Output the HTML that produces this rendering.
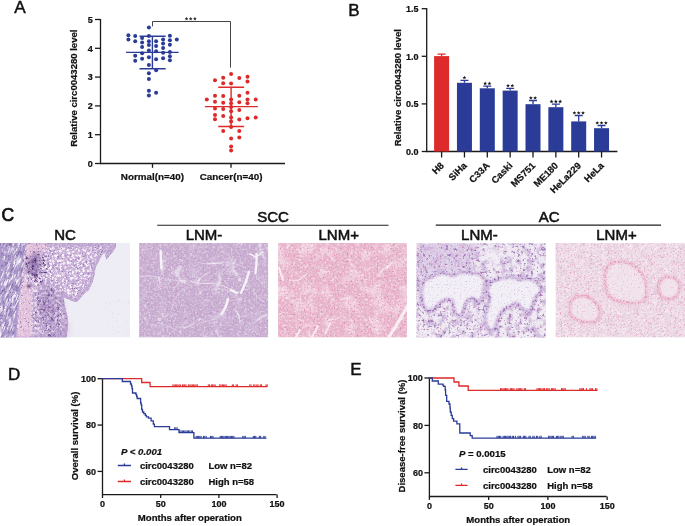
<!DOCTYPE html>
<html><head><meta charset="utf-8"><style>
html,body{margin:0;padding:0;background:#fff;}
svg{display:block;will-change:transform;}
text{font-family:"Liberation Sans",sans-serif;fill:#111;}
text[font-weight="bold"]{stroke:#111;stroke-width:0.22px;}
</style></head><body>
<svg width="685" height="526" viewBox="0 0 685 526">
<rect width="685" height="526" fill="#fff"/>
<text x="14.2" y="12.8" font-size="17.2" font-weight="normal" text-anchor="start" stroke="#111" stroke-width="0.45"  >A</text>
<path d="M100.5,18.9 V163.5 H285" fill="none" stroke="#1a1a1a" stroke-width="1.3"/>
<path d="M95,163.5 H100.5" stroke="#1a1a1a" stroke-width="1.3"/>
<text x="92.8" y="166.8" font-size="9" font-weight="bold" text-anchor="end"  >0</text>
<path d="M95,134.7 H100.5" stroke="#1a1a1a" stroke-width="1.3"/>
<text x="92.8" y="138.0" font-size="9" font-weight="bold" text-anchor="end"  >1</text>
<path d="M95,105.9 H100.5" stroke="#1a1a1a" stroke-width="1.3"/>
<text x="92.8" y="109.2" font-size="9" font-weight="bold" text-anchor="end"  >2</text>
<path d="M95,77.1 H100.5" stroke="#1a1a1a" stroke-width="1.3"/>
<text x="92.8" y="80.39999999999999" font-size="9" font-weight="bold" text-anchor="end"  >3</text>
<path d="M95,48.3 H100.5" stroke="#1a1a1a" stroke-width="1.3"/>
<text x="92.8" y="51.599999999999994" font-size="9" font-weight="bold" text-anchor="end"  >4</text>
<path d="M95,19.5 H100.5" stroke="#1a1a1a" stroke-width="1.3"/>
<text x="92.8" y="22.8" font-size="9" font-weight="bold" text-anchor="end"  >5</text>
<path d="M152.5,163.5 V167.8" stroke="#1a1a1a" stroke-width="1.3"/>
<path d="M231.0,163.5 V167.8" stroke="#1a1a1a" stroke-width="1.3"/>
<text x="152.4" y="180.3" font-size="9.85" font-weight="bold" text-anchor="middle"  >Normal(n=40)</text>
<text x="231.1" y="180.3" font-size="9.85" font-weight="bold" text-anchor="middle"  >Cancer(n=40)</text>
<text transform="translate(77.2,88.2) rotate(-90)" font-size="9.55" font-weight="bold" text-anchor="middle">Relative circ0043280 level</text>
<path d="M152.5,26.3 V21.5 H230.5 V67.6" fill="none" stroke="#444" stroke-width="1"/>
<polygon points="186.50,16.80 187.03,18.07 188.40,18.18 187.36,19.08 187.68,20.42 186.50,19.70 185.32,20.42 185.64,19.08 184.60,18.18 185.97,18.07" fill="#333"/><polygon points="190.70,16.80 191.23,18.07 192.60,18.18 191.56,19.08 191.88,20.42 190.70,19.70 189.52,20.42 189.84,19.08 188.80,18.18 190.17,18.07" fill="#333"/><polygon points="194.90,16.80 195.43,18.07 196.80,18.18 195.76,19.08 196.08,20.42 194.90,19.70 193.72,20.42 194.04,19.08 193.00,18.18 194.37,18.07" fill="#333"/>
<g fill="#2a3c98"><circle cx="148.9" cy="27.6" r="2.0"/><circle cx="128.4" cy="35.2" r="2.0"/><circle cx="128.4" cy="39.5" r="2.0"/><circle cx="135.2" cy="36.0" r="2.0"/><circle cx="135.2" cy="41.3" r="2.0"/><circle cx="142.1" cy="37.9" r="2.0"/><circle cx="142.1" cy="42.5" r="2.0"/><circle cx="142.1" cy="47.1" r="2.0"/><circle cx="142.1" cy="53.2" r="2.0"/><circle cx="142.1" cy="58.8" r="2.0"/><circle cx="148.9" cy="36.0" r="2.0"/><circle cx="148.9" cy="41.3" r="2.0"/><circle cx="148.9" cy="45.1" r="2.0"/><circle cx="148.9" cy="50.4" r="2.0"/><circle cx="148.9" cy="57.3" r="2.0"/><circle cx="148.9" cy="64.9" r="2.0"/><circle cx="148.9" cy="73.2" r="2.0"/><circle cx="148.9" cy="79.0" r="2.0"/><circle cx="148.9" cy="90.7" r="2.0"/><circle cx="148.9" cy="95.6" r="2.0"/><circle cx="156.1" cy="41.3" r="2.0"/><circle cx="156.1" cy="45.9" r="2.0"/><circle cx="156.1" cy="51.2" r="2.0"/><circle cx="156.1" cy="59.2" r="2.0"/><circle cx="156.1" cy="70.2" r="2.0"/><circle cx="156.1" cy="92.7" r="2.0"/><circle cx="163.1" cy="39.5" r="2.0"/><circle cx="163.1" cy="43.6" r="2.0"/><circle cx="163.1" cy="48.1" r="2.0"/><circle cx="163.1" cy="52.7" r="2.0"/><circle cx="163.1" cy="58.3" r="2.0"/><circle cx="169.9" cy="35.7" r="2.0"/><circle cx="169.9" cy="40.2" r="2.0"/><circle cx="169.9" cy="44.8" r="2.0"/><circle cx="169.9" cy="51.9" r="2.0"/><circle cx="169.9" cy="56.2" r="2.0"/><circle cx="169.9" cy="60.3" r="2.0"/><circle cx="176.8" cy="39.5" r="2.0"/><circle cx="135.2" cy="55.7" r="2.0"/><circle cx="135.2" cy="60.8" r="2.0"/></g>
<g fill="#dd2a2a"><circle cx="231.1" cy="73.9" r="2.0"/><circle cx="215.0" cy="80.3" r="2.0"/><circle cx="223.2" cy="77.7" r="2.0"/><circle cx="239.3" cy="78.1" r="2.0"/><circle cx="247.5" cy="76.7" r="2.0"/><circle cx="223.2" cy="83.2" r="2.0"/><circle cx="231.1" cy="83.4" r="2.0"/><circle cx="247.5" cy="81.5" r="2.0"/><circle cx="247.5" cy="92.7" r="2.0"/><circle cx="206.8" cy="99.5" r="2.0"/><circle cx="215.0" cy="95.7" r="2.0"/><circle cx="223.2" cy="96.1" r="2.0"/><circle cx="239.3" cy="95.7" r="2.0"/><circle cx="255.7" cy="99.4" r="2.0"/><circle cx="215.0" cy="101.8" r="2.0"/><circle cx="223.2" cy="102.8" r="2.0"/><circle cx="231.1" cy="99.5" r="2.0"/><circle cx="231.1" cy="103.3" r="2.0"/><circle cx="239.3" cy="102.2" r="2.0"/><circle cx="247.5" cy="99.5" r="2.0"/><circle cx="247.5" cy="103.3" r="2.0"/><circle cx="215.0" cy="108.5" r="2.0"/><circle cx="223.2" cy="109.0" r="2.0"/><circle cx="231.1" cy="107.1" r="2.0"/><circle cx="239.3" cy="110.0" r="2.0"/><circle cx="231.1" cy="111.3" r="2.0"/><circle cx="215.0" cy="115.1" r="2.0"/><circle cx="215.0" cy="119.3" r="2.0"/><circle cx="223.2" cy="116.1" r="2.0"/><circle cx="231.1" cy="117.4" r="2.0"/><circle cx="231.1" cy="121.4" r="2.0"/><circle cx="239.3" cy="119.5" r="2.0"/><circle cx="247.5" cy="118.2" r="2.0"/><circle cx="255.7" cy="117.4" r="2.0"/><circle cx="231.1" cy="126.9" r="2.0"/><circle cx="223.2" cy="130.9" r="2.0"/><circle cx="239.3" cy="130.9" r="2.0"/><circle cx="231.1" cy="138.5" r="2.0"/><circle cx="239.3" cy="137.6" r="2.0"/><circle cx="231.1" cy="146.5" r="2.0"/><circle cx="231.1" cy="150.5" r="2.0"/></g>
<path d="M126,52.4 H178.6 M139.5,36.3 H165.7 M139.5,68.7 H165.7 M152.4,36.3 V68.7" stroke="#2a3c98" stroke-width="1.4" fill="none"/>
<path d="M204.9,106.6 H257.8 M218.2,87.2 H244.1 M218.2,126.5 H244.1 M231.1,87.2 V126.5" stroke="#dd2a2a" stroke-width="1.4" fill="none"/>
<text x="348.2" y="15.8" font-size="17.0" font-weight="normal" text-anchor="start" stroke="#111" stroke-width="0.45"  >B</text>
<path d="M426.7,8.099999999999989 V151.5 H617.4" fill="none" stroke="#1a1a1a" stroke-width="1.3"/>
<path d="M421.7,151.5 H426.7" stroke="#1a1a1a" stroke-width="1.3"/>
<text x="418.6" y="154.8" font-size="9" font-weight="bold" text-anchor="end"  >0.0</text>
<path d="M421.7,103.9 H426.7" stroke="#1a1a1a" stroke-width="1.3"/>
<text x="418.6" y="107.2" font-size="9" font-weight="bold" text-anchor="end"  >0.5</text>
<path d="M421.7,56.3 H426.7" stroke="#1a1a1a" stroke-width="1.3"/>
<text x="418.6" y="59.599999999999994" font-size="9" font-weight="bold" text-anchor="end"  >1.0</text>
<path d="M421.7,8.699999999999989 H426.7" stroke="#1a1a1a" stroke-width="1.3"/>
<text x="418.6" y="11.99999999999999" font-size="9" font-weight="bold" text-anchor="end"  >1.5</text>
<text transform="translate(401.2,87.7) rotate(-90)" font-size="9.55" font-weight="bold" text-anchor="middle">Relative circ0043280 level</text>
<rect x="434.1" y="56.1" width="15" height="95.4" fill="#dd2a2a"/>
<path d="M441.6,56.1 V54.2 M437.6,54.2 H445.6" stroke="#dd2a2a" stroke-width="1.3" fill="none"/>
<path d="M441.6,151.5 V157.5" stroke="#1a1a1a" stroke-width="1.3"/>
<text transform="translate(444.6,166.2) rotate(-45)" font-size="9.5" font-weight="bold" text-anchor="end">H8</text>
<rect x="456.95000000000005" y="82.8" width="15" height="68.7" fill="#2a3c98"/>
<path d="M464.45000000000005,82.8 V80.3 M460.45000000000005,80.3 H468.45000000000005" stroke="#2a3c98" stroke-width="1.3" fill="none"/>
<path d="M464.45000000000005,151.5 V157.5" stroke="#1a1a1a" stroke-width="1.3"/>
<polygon points="464.45,75.70 464.98,76.97 466.35,77.08 465.31,77.98 465.63,79.32 464.45,78.60 463.27,79.32 463.59,77.98 462.55,77.08 463.92,76.97" fill="#1a1a1a"/>
<text transform="translate(467.45000000000005,166.2) rotate(-45)" font-size="9.5" font-weight="bold" text-anchor="end">SiHa</text>
<rect x="479.8" y="88.3" width="15" height="63.2" fill="#2a3c98"/>
<path d="M487.3,88.3 V86.1 M483.3,86.1 H491.3" stroke="#2a3c98" stroke-width="1.3" fill="none"/>
<path d="M487.3,151.5 V157.5" stroke="#1a1a1a" stroke-width="1.3"/>
<polygon points="485.15,81.50 485.68,82.77 487.05,82.88 486.01,83.78 486.33,85.12 485.15,84.40 483.97,85.12 484.29,83.78 483.25,82.88 484.62,82.77" fill="#1a1a1a"/><polygon points="489.45,81.50 489.98,82.77 491.35,82.88 490.31,83.78 490.63,85.12 489.45,84.40 488.27,85.12 488.59,83.78 487.55,82.88 488.92,82.77" fill="#1a1a1a"/>
<text transform="translate(490.3,166.2) rotate(-45)" font-size="9.5" font-weight="bold" text-anchor="end">C33A</text>
<rect x="502.65000000000003" y="90.6" width="15" height="60.900000000000006" fill="#2a3c98"/>
<path d="M510.15000000000003,90.6 V88.3 M506.15000000000003,88.3 H514.1500000000001" stroke="#2a3c98" stroke-width="1.3" fill="none"/>
<path d="M510.15000000000003,151.5 V157.5" stroke="#1a1a1a" stroke-width="1.3"/>
<polygon points="508.00,83.70 508.53,84.97 509.90,85.08 508.86,85.98 509.18,87.32 508.00,86.60 506.82,87.32 507.14,85.98 506.10,85.08 507.47,84.97" fill="#1a1a1a"/><polygon points="512.30,83.70 512.83,84.97 514.20,85.08 513.16,85.98 513.48,87.32 512.30,86.60 511.12,87.32 511.44,85.98 510.40,85.08 511.77,84.97" fill="#1a1a1a"/>
<text transform="translate(513.1500000000001,166.2) rotate(-45)" font-size="9.5" font-weight="bold" text-anchor="end">Caski</text>
<rect x="525.5" y="104.2" width="15" height="47.3" fill="#2a3c98"/>
<path d="M533.0,104.2 V100.5 M529.0,100.5 H537.0" stroke="#2a3c98" stroke-width="1.3" fill="none"/>
<path d="M533.0,151.5 V157.5" stroke="#1a1a1a" stroke-width="1.3"/>
<polygon points="530.85,95.90 531.38,97.17 532.75,97.28 531.71,98.18 532.03,99.52 530.85,98.80 529.67,99.52 529.99,98.18 528.95,97.28 530.32,97.17" fill="#1a1a1a"/><polygon points="535.15,95.90 535.68,97.17 537.05,97.28 536.01,98.18 536.33,99.52 535.15,98.80 533.97,99.52 534.29,98.18 533.25,97.28 534.62,97.17" fill="#1a1a1a"/>
<text transform="translate(536.0,166.2) rotate(-45)" font-size="9.5" font-weight="bold" text-anchor="end">MS751</text>
<rect x="548.35" y="107.2" width="15" height="44.3" fill="#2a3c98"/>
<path d="M555.85,107.2 V104.2 M551.85,104.2 H559.85" stroke="#2a3c98" stroke-width="1.3" fill="none"/>
<path d="M555.85,151.5 V157.5" stroke="#1a1a1a" stroke-width="1.3"/>
<polygon points="551.55,99.60 552.08,100.87 553.45,100.98 552.41,101.88 552.73,103.22 551.55,102.50 550.37,103.22 550.69,101.88 549.65,100.98 551.02,100.87" fill="#1a1a1a"/><polygon points="555.85,99.60 556.38,100.87 557.75,100.98 556.71,101.88 557.03,103.22 555.85,102.50 554.67,103.22 554.99,101.88 553.95,100.98 555.32,100.87" fill="#1a1a1a"/><polygon points="560.15,99.60 560.68,100.87 562.05,100.98 561.01,101.88 561.33,103.22 560.15,102.50 558.97,103.22 559.29,101.88 558.25,100.98 559.62,100.87" fill="#1a1a1a"/>
<text transform="translate(558.85,166.2) rotate(-45)" font-size="9.5" font-weight="bold" text-anchor="end">ME180</text>
<rect x="571.2" y="121.4" width="15" height="30.099999999999994" fill="#2a3c98"/>
<path d="M578.7,121.4 V115.5 M574.7,115.5 H582.7" stroke="#2a3c98" stroke-width="1.3" fill="none"/>
<path d="M578.7,151.5 V157.5" stroke="#1a1a1a" stroke-width="1.3"/>
<polygon points="574.40,110.90 574.93,112.17 576.30,112.28 575.26,113.18 575.58,114.52 574.40,113.80 573.22,114.52 573.54,113.18 572.50,112.28 573.87,112.17" fill="#1a1a1a"/><polygon points="578.70,110.90 579.23,112.17 580.60,112.28 579.56,113.18 579.88,114.52 578.70,113.80 577.52,114.52 577.84,113.18 576.80,112.28 578.17,112.17" fill="#1a1a1a"/><polygon points="583.00,110.90 583.53,112.17 584.90,112.28 583.86,113.18 584.18,114.52 583.00,113.80 581.82,114.52 582.14,113.18 581.10,112.28 582.47,112.17" fill="#1a1a1a"/>
<text transform="translate(581.7,166.2) rotate(-45)" font-size="9.5" font-weight="bold" text-anchor="end">HeLa229</text>
<rect x="594.0500000000001" y="128.2" width="15" height="23.30000000000001" fill="#2a3c98"/>
<path d="M601.5500000000001,128.2 V125.5 M597.5500000000001,125.5 H605.5500000000001" stroke="#2a3c98" stroke-width="1.3" fill="none"/>
<path d="M601.5500000000001,151.5 V157.5" stroke="#1a1a1a" stroke-width="1.3"/>
<polygon points="597.25,120.90 597.78,122.17 599.15,122.28 598.11,123.18 598.43,124.52 597.25,123.80 596.07,124.52 596.39,123.18 595.35,122.28 596.72,122.17" fill="#1a1a1a"/><polygon points="601.55,120.90 602.08,122.17 603.45,122.28 602.41,123.18 602.73,124.52 601.55,123.80 600.37,124.52 600.69,123.18 599.65,122.28 601.02,122.17" fill="#1a1a1a"/><polygon points="605.85,120.90 606.38,122.17 607.75,122.28 606.71,123.18 607.03,124.52 605.85,123.80 604.67,124.52 604.99,123.18 603.95,122.28 605.32,122.17" fill="#1a1a1a"/>
<text transform="translate(604.5500000000001,166.2) rotate(-45)" font-size="9.5" font-weight="bold" text-anchor="end">HeLa</text>
<text x="1.6" y="220.6" font-size="17.5" font-weight="normal" text-anchor="start" stroke="#111" stroke-width="0.7"  >C</text>
<text x="65.0" y="240.3" font-size="15" font-weight="normal" text-anchor="middle" stroke="#111" stroke-width="0.55"  >NC</text>
<text x="204.0" y="240.3" font-size="15" font-weight="normal" text-anchor="middle" stroke="#111" stroke-width="0.55"  >LNM-</text>
<text x="338.7" y="240.3" font-size="15" font-weight="normal" text-anchor="middle" stroke="#111" stroke-width="0.55"  >LNM+</text>
<text x="479.4" y="240.3" font-size="15" font-weight="normal" text-anchor="middle" stroke="#111" stroke-width="0.55"  >LNM-</text>
<text x="616.5" y="240.3" font-size="15" font-weight="normal" text-anchor="middle" stroke="#111" stroke-width="0.55"  >LNM+</text>
<text x="273.0" y="222.4" font-size="15" font-weight="normal" text-anchor="middle" stroke="#111" stroke-width="0.55"  >SCC</text>
<text x="549.2" y="222.4" font-size="15" font-weight="normal" text-anchor="middle" stroke="#111" stroke-width="0.55"  >AC</text>
<path d="M157.2,225.2 H388.5 M435.7,225.1 H661" stroke="#222" stroke-width="1.1"/>
<defs><clipPath id="cNC"><rect x="0" y="243" width="130" height="94.5"/></clipPath><clipPath id="cS1"><rect x="139.1" y="243" width="129.2" height="94.5"/></clipPath><clipPath id="cS2"><rect x="277.9" y="243" width="129.1" height="94.5"/></clipPath><clipPath id="cA1"><rect x="416.4" y="243.2" width="129.4" height="94.4"/></clipPath><clipPath id="cNCt"><path d="M0,243 L115.6,243 L116,246.3 L113.6,250.9 L109.6,255.5 L106.4,259.4 L105.4,255.5 L104.4,252.2 L101.8,255.5 L99.8,258.8 L98.5,262 L96.5,265.3 L95.2,269.3 L94.5,274.5 L93.2,279.8 L91.2,285 L88.6,290.3 L84,293.8 L79.6,299 L76.7,301.9 L72.3,301.1 L68,299 L63.6,297 L64.3,302.6 L65.8,309.9 L67.7,317.2 L68.2,324.5 L67.2,331.8 L66.5,337.6 L0,337.6 Z"/></clipPath><mask id="mNCin" maskUnits="userSpaceOnUse" x="0" y="240" width="135" height="100"><path d="M0,243 L115.6,243 L116,246.3 L113.6,250.9 L109.6,255.5 L106.4,259.4 L105.4,255.5 L104.4,252.2 L101.8,255.5 L99.8,258.8 L98.5,262 L96.5,265.3 L95.2,269.3 L94.5,274.5 L93.2,279.8 L91.2,285 L88.6,290.3 L84,293.8 L79.6,299 L76.7,301.9 L72.3,301.1 L68,299 L63.6,297 L64.3,302.6 L65.8,309.9 L67.7,317.2 L68.2,324.5 L67.2,331.8 L66.5,337.6 L0,337.6 Z" fill="#fff"/><path d="M0,243 L115.6,243 L116,246.3 L113.6,250.9 L109.6,255.5 L106.4,259.4 L105.4,255.5 L104.4,252.2 L101.8,255.5 L99.8,258.8 L98.5,262 L96.5,265.3 L95.2,269.3 L94.5,274.5 L93.2,279.8 L91.2,285 L88.6,290.3 L84,293.8 L79.6,299 L76.7,301.9 L72.3,301.1 L68,299 L63.6,297 L64.3,302.6 L65.8,309.9 L67.7,317.2 L68.2,324.5 L67.2,331.8 L66.5,337.6 L0,337.6 Z" fill="none" stroke="#000" stroke-width="7" filter="url(#fB1)"/></mask><clipPath id="cStrip" clipPathUnits="userSpaceOnUse"><path transform="rotate(-20 14 290)" d="M0,243 L28,243 L26,255 L23.5,270 L21,290 L18,310 L16.4,337.6 L0,337.6 Z"/></clipPath><clipPath id="cA2"><rect x="555.4" y="243" width="129.6" height="94.5"/></clipPath><filter id="fB1" x="-20%" y="-20%" width="140%" height="140%"><feGaussianBlur stdDeviation="1"/></filter><filter id="fB2" x="-50%" y="-50%" width="200%" height="200%"><feGaussianBlur stdDeviation="2.5"/></filter><filter id="fB4" x="-50%" y="-50%" width="200%" height="200%"><feGaussianBlur stdDeviation="4"/></filter><filter id="fMesh" x="0" y="0" width="100%" height="100%" color-interpolation-filters="sRGB"><feTurbulence type="fractalNoise" baseFrequency="0.55" numOctaves="2" seed="4" result="n"/><feColorMatrix in="n" type="matrix" values="0 0 0 0 1  0 0 0 0 1  0 0 0 0 1  5 0 0 0 -2.5" result="m"/><feComposite in="SourceGraphic" in2="m" operator="in"/></filter><filter id="fMeshNC" x="0" y="0" width="100%" height="100%" color-interpolation-filters="sRGB"><feTurbulence type="fractalNoise" baseFrequency="0.4" numOctaves="2" seed="61" result="n"/><feColorMatrix in="n" type="matrix" values="0 0 0 0 1  0 0 0 0 1  0 0 0 0 1  5 0 0 0 -2.25" result="m"/><feComposite in="SourceGraphic" in2="m" operator="in"/></filter><filter id="fMesh2" x="0" y="0" width="100%" height="100%" color-interpolation-filters="sRGB"><feTurbulence type="fractalNoise" baseFrequency="0.45" numOctaves="2" seed="14" result="n"/><feColorMatrix in="n" type="matrix" values="0 0 0 0 1  0 0 0 0 1  0 0 0 0 1  5 0 0 0 -2.5" result="m"/><feComposite in="SourceGraphic" in2="m" operator="in"/></filter><filter id="fMesh3" x="0" y="0" width="100%" height="100%" color-interpolation-filters="sRGB"><feTurbulence type="fractalNoise" baseFrequency="0.7" numOctaves="1" seed="24" result="n"/><feColorMatrix in="n" type="matrix" values="0 0 0 0 1  0 0 0 0 1  0 0 0 0 1  4 0 0 0 -2.0" result="m"/><feComposite in="SourceGraphic" in2="m" operator="in"/></filter><filter id="fDark" x="0" y="0" width="100%" height="100%" color-interpolation-filters="sRGB"><feTurbulence type="fractalNoise" baseFrequency="0.6" numOctaves="2" seed="9" result="n"/><feColorMatrix in="n" type="matrix" values="0 0 0 0 1  0 0 0 0 1  0 0 0 0 1  10 0 0 0 -6.4" result="m"/><feComposite in="SourceGraphic" in2="m" operator="in"/></filter><filter id="fDark2" x="0" y="0" width="100%" height="100%" color-interpolation-filters="sRGB"><feTurbulence type="fractalNoise" baseFrequency="0.5" numOctaves="1" seed="21" result="n"/><feColorMatrix in="n" type="matrix" values="0 0 0 0 1  0 0 0 0 1  0 0 0 0 1  14 0 0 0 -9.24" result="m"/><feComposite in="SourceGraphic" in2="m" operator="in"/></filter><filter id="fDark3" x="0" y="0" width="100%" height="100%" color-interpolation-filters="sRGB"><feTurbulence type="fractalNoise" baseFrequency="0.7" numOctaves="1" seed="31" result="n"/><feColorMatrix in="n" type="matrix" values="0 0 0 0 1  0 0 0 0 1  0 0 0 0 1  8 0 0 0 -4.8" result="m"/><feComposite in="SourceGraphic" in2="m" operator="in"/></filter><filter id="fBlot" x="0" y="0" width="100%" height="100%" color-interpolation-filters="sRGB"><feTurbulence type="fractalNoise" baseFrequency="0.09" numOctaves="3" seed="7" result="n"/><feColorMatrix in="n" type="matrix" values="0 0 0 0 1  0 0 0 0 1  0 0 0 0 1  5 0 0 0 -2.5" result="m"/><feComposite in="SourceGraphic" in2="m" operator="in"/></filter><filter id="fBlot2" x="0" y="0" width="100%" height="100%" color-interpolation-filters="sRGB"><feTurbulence type="fractalNoise" baseFrequency="0.07" numOctaves="3" seed="17" result="n"/><feColorMatrix in="n" type="matrix" values="0 0 0 0 1  0 0 0 0 1  0 0 0 0 1  5 0 0 0 -2.5" result="m"/><feComposite in="SourceGraphic" in2="m" operator="in"/></filter><filter id="fFiber" x="0" y="0" width="100%" height="100%" color-interpolation-filters="sRGB"><feTurbulence type="fractalNoise" baseFrequency="0.75 0.12" numOctaves="2" seed="5" result="n"/><feColorMatrix in="n" type="matrix" values="0 0 0 0 1  0 0 0 0 1  0 0 0 0 1  5 0 0 0 -2.3499999999999996" result="m"/><feComposite in="SourceGraphic" in2="m" operator="in"/></filter><filter id="fFiberD" x="0" y="0" width="100%" height="100%" color-interpolation-filters="sRGB"><feTurbulence type="fractalNoise" baseFrequency="0.75 0.12" numOctaves="2" seed="55" result="n"/><feColorMatrix in="n" type="matrix" values="0 0 0 0 1  0 0 0 0 1  0 0 0 0 1  6 0 0 0 -3.3600000000000003" result="m"/><feComposite in="SourceGraphic" in2="m" operator="in"/></filter><filter id="fFine" x="0" y="0" width="100%" height="100%" color-interpolation-filters="sRGB"><feTurbulence type="fractalNoise" baseFrequency="0.8" numOctaves="1" seed="3" result="n"/><feColorMatrix in="n" type="matrix" values="0 0 0 0 1  0 0 0 0 1  0 0 0 0 1  4 0 0 0 -2.0" result="m"/><feComposite in="SourceGraphic" in2="m" operator="in"/></filter><filter id="fBlotA" x="0" y="0" width="100%" height="100%" color-interpolation-filters="sRGB"><feTurbulence type="fractalNoise" baseFrequency="0.15" numOctaves="2" seed="41" result="n"/><feColorMatrix in="n" type="matrix" values="0 0 0 0 1  0 0 0 0 1  0 0 0 0 1  4 0 0 0 -1.84" result="m"/><feComposite in="SourceGraphic" in2="m" operator="in"/></filter><filter id="fSpeckA" x="0" y="0" width="100%" height="100%" color-interpolation-filters="sRGB"><feTurbulence type="fractalNoise" baseFrequency="0.35" numOctaves="2" seed="43" result="n"/><feColorMatrix in="n" type="matrix" values="0 0 0 0 1  0 0 0 0 1  0 0 0 0 1  7 0 0 0 -4.2" result="m"/><feComposite in="SourceGraphic" in2="m" operator="in"/></filter><filter id="fSpeckB" x="0" y="0" width="100%" height="100%" color-interpolation-filters="sRGB"><feTurbulence type="fractalNoise" baseFrequency="0.45" numOctaves="1" seed="47" result="n"/><feColorMatrix in="n" type="matrix" values="0 0 0 0 1  0 0 0 0 1  0 0 0 0 1  10 0 0 0 -6.4" result="m"/><feComposite in="SourceGraphic" in2="m" operator="in"/></filter><filter id="fRing" x="0" y="0" width="100%" height="100%" color-interpolation-filters="sRGB"><feTurbulence type="fractalNoise" baseFrequency="0.6" numOctaves="1" seed="51" result="n"/><feColorMatrix in="n" type="matrix" values="0 0 0 0 1  0 0 0 0 1  0 0 0 0 1  5 0 0 0 -2.2" result="m"/><feComposite in="SourceGraphic" in2="m" operator="in"/></filter><filter id="fSpeckC" x="0" y="0" width="100%" height="100%" color-interpolation-filters="sRGB"><feTurbulence type="fractalNoise" baseFrequency="0.5" numOctaves="2" seed="57" result="n"/><feColorMatrix in="n" type="matrix" values="0 0 0 0 1  0 0 0 0 1  0 0 0 0 1  6 0 0 0 -3.3600000000000003" result="m"/><feComposite in="SourceGraphic" in2="m" operator="in"/></filter><filter id="fVein" x="0" y="0" width="100%" height="100%" color-interpolation-filters="sRGB"><feTurbulence type="turbulence" baseFrequency="0.025" numOctaves="2" seed="5" result="n"/><feColorMatrix in="n" type="matrix" values="0 0 0 0 1  0 0 0 0 1  0 0 0 0 1  -16 0 0 0 1.1" result="m"/><feComposite in="SourceGraphic" in2="m" operator="in"/></filter><filter id="fVein2" x="0" y="0" width="100%" height="100%" color-interpolation-filters="sRGB"><feTurbulence type="turbulence" baseFrequency="0.03 0.05" numOctaves="2" seed="8" result="n"/><feColorMatrix in="n" type="matrix" values="0 0 0 0 1  0 0 0 0 1  0 0 0 0 1  -16 0 0 0 1.1" result="m"/><feComposite in="SourceGraphic" in2="m" operator="in"/></filter><filter id="fFib2" x="0" y="0" width="100%" height="100%" color-interpolation-filters="sRGB"><feTurbulence type="fractalNoise" baseFrequency="0.25 0.6" numOctaves="2" seed="53" result="n"/><feColorMatrix in="n" type="matrix" values="0 0 0 0 1  0 0 0 0 1  0 0 0 0 1  4 0 0 0 -2.0" result="m"/><feComposite in="SourceGraphic" in2="m" operator="in"/></filter></defs>
<g clip-path="url(#cNC)">
<rect x="0" y="243" width="130" height="94.5" fill="#eeecf4"/>
<rect x="105" y="300" width="25" height="35" fill="#8a78b0" filter="url(#fDark2)" opacity="0.12"/>
<path d="M0,243 L115.6,243 L116,246.3 L113.6,250.9 L109.6,255.5 L106.4,259.4 L105.4,255.5 L104.4,252.2 L101.8,255.5 L99.8,258.8 L98.5,262 L96.5,265.3 L95.2,269.3 L94.5,274.5 L93.2,279.8 L91.2,285 L88.6,290.3 L84,293.8 L79.6,299 L76.7,301.9 L72.3,301.1 L68,299 L63.6,297 L64.3,302.6 L65.8,309.9 L67.7,317.2 L68.2,324.5 L67.2,331.8 L66.5,337.6 L0,337.6 Z" fill="#c6acd6"/>
<g clip-path="url(#cNCt)"><path d="M0,243 L115.6,243 L116,246.3 L113.6,250.9 L109.6,255.5 L106.4,259.4 L105.4,255.5 L104.4,252.2 L101.8,255.5 L99.8,258.8 L98.5,262 L96.5,265.3 L95.2,269.3 L94.5,274.5 L93.2,279.8 L91.2,285 L88.6,290.3 L84,293.8 L79.6,299 L76.7,301.9 L72.3,301.1 L68,299 L63.6,297 L64.3,302.6 L65.8,309.9 L67.7,317.2 L68.2,324.5 L67.2,331.8 L66.5,337.6 L0,337.6 Z" fill="none" stroke="#c0a6d2" stroke-width="10" filter="url(#fB1)"/></g>
<g mask="url(#mNCin)"><path d="M0,243 L115.6,243 L116,246.3 L113.6,250.9 L109.6,255.5 L106.4,259.4 L105.4,255.5 L104.4,252.2 L101.8,255.5 L99.8,258.8 L98.5,262 L96.5,265.3 L95.2,269.3 L94.5,274.5 L93.2,279.8 L91.2,285 L88.6,290.3 L84,293.8 L79.6,299 L76.7,301.9 L72.3,301.1 L68,299 L63.6,297 L64.3,302.6 L65.8,309.9 L67.7,317.2 L68.2,324.5 L67.2,331.8 L66.5,337.6 L0,337.6 Z" fill="#fbf8fc" filter="url(#fMeshNC)" opacity="0.95"/></g>
<g clip-path="url(#cNCt)"><path d="M0,243 L115.6,243 L116,246.3 L113.6,250.9 L109.6,255.5 L106.4,259.4 L105.4,255.5 L104.4,252.2 L101.8,255.5 L99.8,258.8 L98.5,262 L96.5,265.3 L95.2,269.3 L94.5,274.5 L93.2,279.8 L91.2,285 L88.6,290.3 L84,293.8 L79.6,299 L76.7,301.9 L72.3,301.1 L68,299 L63.6,297 L64.3,302.6 L65.8,309.9 L67.7,317.2 L68.2,324.5 L67.2,331.8 L66.5,337.6 L0,337.6 Z" fill="none" stroke="#fff" stroke-width="8" filter="url(#fMesh)" opacity="0.3"/></g>
<g filter="url(#fB4)" opacity="0.4"><ellipse cx="48" cy="305" rx="12" ry="22" fill="#8c6aac"/><ellipse cx="58" cy="330" rx="9" ry="8" fill="#9a7ab8"/></g>
<path d="M0,243 L28,243 L26,255 L23.5,270 L21,290 L18,310 L16.4,337.6 L0,337.6 Z" fill="#ad98cc"/>
<g transform="rotate(22 14 290)"><rect x="-20" y="230" width="60" height="120" fill="#fff" filter="url(#fFiber)" opacity="1" clip-path="url(#cStrip)"/><rect x="-20" y="230" width="60" height="120" fill="#6c5898" filter="url(#fFiberD)" opacity="0.6" clip-path="url(#cStrip)"/></g>
<path d="M0,243 L28,243 L26,255 L23.5,270 L21,290 L18,310 L16.4,337.6 L0,337.6 Z" fill="#6a5a9a" filter="url(#fDark2)" opacity="0.3"/>
<g filter="url(#fB1)"><path d="M27,243 L47,243 L45,251 L38,255 L31,259 L27,264 L25,272 L27,280 L31,285 L32,292 L31.8,337.6 L17,337.6 L19,310 L21,292 L23.5,270 Z" fill="#e6c2dc" opacity="0.8"/></g>
<path d="M17,337.6 L19,310 L21,292 L23.5,270 L27,262 L32,292 L31.8,337.6 Z M27,243 L47,243 L45,251 L38,255 L31,259 L27,264 Z" fill="#fff" filter="url(#fMesh)" opacity="0.35"/>
<g filter="url(#fB2)"><ellipse cx="33" cy="266" rx="7" ry="10" fill="#6e4c90" opacity="0.55"/><ellipse cx="37" cy="256" rx="5" ry="4" fill="#7a5a9a" opacity="0.6"/></g>
<g fill="#4e3070" filter="url(#fB1)"><circle cx="36" cy="275.3" r="1.6"/><circle cx="29" cy="286.2" r="1.8"/><circle cx="10" cy="244.4" r="1.4"/><circle cx="33" cy="262" r="1.2"/></g>
<path d="M0,243 L115.6,243 L116,246.3 L113.6,250.9 L109.6,255.5 L106.4,259.4 L105.4,255.5 L104.4,252.2 L101.8,255.5 L99.8,258.8 L98.5,262 L96.5,265.3 L95.2,269.3 L94.5,274.5 L93.2,279.8 L91.2,285 L88.6,290.3 L84,293.8 L79.6,299 L76.7,301.9 L72.3,301.1 L68,299 L63.6,297 L64.3,302.6 L65.8,309.9 L67.7,317.2 L68.2,324.5 L67.2,331.8 L66.5,337.6 L0,337.6 Z" fill="#5a3a80" filter="url(#fDark)" opacity="0.45"/>
<ellipse cx="36" cy="267" rx="12" ry="17" fill="#4a2a70" filter="url(#fSpeckA)" opacity="0.9"/>
<ellipse cx="47" cy="313" rx="15" ry="26" fill="#4a2a70" filter="url(#fSpeckA)" opacity="0.55"/>
<ellipse cx="52" cy="262" rx="10" ry="12" fill="#4a2a70" filter="url(#fSpeckB)" opacity="0.5"/>
</g>
<g clip-path="url(#cS1)">
<rect x="139.1" y="243" width="129.2" height="94.5" fill="#c9aed2"/>
<rect x="139.1" y="243" width="129.2" height="94.5" fill="#dccce4" filter="url(#fBlot)" opacity="0.5"/>
<rect x="139.1" y="243" width="129.2" height="94.5" fill="#fff" filter="url(#fMesh2)" opacity="0.35"/>
<rect x="139.1" y="243" width="129.2" height="94.5" fill="#c888b0" filter="url(#fDark3)" opacity="0.45"/>
<rect x="139.1" y="243" width="129.2" height="94.5" fill="#9a82b8" filter="url(#fDark)" opacity="0.35"/>
<rect x="139.1" y="243" width="129.2" height="94.5" fill="#f6f2f8" filter="url(#fVein)" opacity="0.6"/>
<g fill="none" stroke="#f6f2f8" stroke-linecap="round"><path d="M160.6,250.8 L161.4,268.4" stroke-width="2.4"/><path d="M256.5,254 Q257,263 255.5,273" stroke-width="2.4"/><path d="M263,252 L256,257 L250,254" stroke-width="1.4"/><path d="M249,272 Q246,283 241,293" stroke-width="2.4"/><path d="M231,290 L237,293" stroke-width="2.2"/><path d="M228,299 Q226,308 221.5,314" stroke-width="2.6"/><path d="M190,281 Q200,285 212,283 Q224,285 232,290" stroke-width="0.9" opacity="0.8"/><path d="M208,264 L222,263" stroke-width="1.2" opacity="0.8"/><path d="M185,278 L178,283 L172,292" stroke-width="0.8" opacity="0.6"/><path d="M167.5,279.1 L177.0,281.0 L186.4,280.0" stroke-width="0.8" opacity="0.55"/><path d="M186.4,286.6 L178.8,292.3 L174.1,299.9 L171.6,309.4" stroke-width="0.8" opacity="0.55"/><path d="M195.9,262.0 L205.4,263.9 L222.5,262.0 L235.8,263.9 L245.3,267.7" stroke-width="0.8" opacity="0.55"/><path d="M139.0,277.2 L148.5,275.3 L158.0,277.2 L165.6,279.1" stroke-width="0.8" opacity="0.55"/><path d="M201.6,322.7 L214.9,318.9 L222.5,315.1" stroke-width="0.8" opacity="0.55"/><path d="M252.9,290.4 L258.5,298.0 L264.2,301.8" stroke-width="0.8" opacity="0.55"/><path d="M218.7,288.5 L228.2,290.4 L235.8,292.7" stroke-width="0.8" opacity="0.55"/><path d="M158.0,322.7 L169.4,326.5 L180.7,332.2" stroke-width="0.8" opacity="0.55"/></g>
</g>
<g clip-path="url(#cS2)">
<rect x="277.9" y="243" width="129.1" height="94.5" fill="#e8b6cc"/>
<rect x="277.9" y="243" width="129.1" height="94.5" fill="#f8e6f0" filter="url(#fBlot2)" opacity="0.5"/>
<rect x="277.9" y="243" width="129.1" height="94.5" fill="#fff" filter="url(#fMesh2)" opacity="0.4"/>
<rect x="277.9" y="243" width="129.1" height="94.5" fill="#dc6c9c" filter="url(#fDark3)" opacity="0.5"/>
<rect x="277.9" y="243" width="129.1" height="94.5" fill="#faf0f4" filter="url(#fVein2)" opacity="0.6"/>
<g fill="none" stroke="#f8eef2" stroke-linecap="round"><path d="M407,307 L396,326 L389,337" stroke-width="3.2"/><path d="M300,330 L296,337" stroke-width="2"/><path d="M318,326 L312,337" stroke-width="1.6"/><path d="M330,324 L325,334" stroke-width="1.6"/><path d="M279,268 L283,280" stroke-width="2.2"/><path d="M340,300 L352,297" stroke-width="1" opacity="0.7"/></g>
</g>
<g clip-path="url(#cA1)">
<rect x="416" y="243" width="130" height="95" fill="#eee8f2"/>
<rect x="416" y="243" width="130" height="95" fill="#c8aed8" filter="url(#fBlotA)" opacity="0.9"/>
<polygon points="416.3,243.3 478.6,243.3 476.6,252.7 472.7,262.5 478.6,272.3 470.7,270.3 460.9,269.4 453.1,272.3 443.3,270.3 433.6,273.3 421.8,278.2 418.9,291.9 419.9,305.6 416.3,307.5" fill="#d0b8de" filter="url(#fB2)" opacity="0.6"/>
<polygon points="424.8,282.1 433.6,277.2 443.3,274.3 453.1,277.2 460.9,273.3 470.7,274.3 478.6,275.2 483.4,280.1 482.5,287.9 481.5,295.8 478.6,299.7 472.7,296.8 466.8,298.7 463.9,303.6 461.9,311.4 460.0,315.3 456.1,312.4 454.1,303.6 453.1,298.7 447.3,297.7 441.4,299.7 435.5,305.6 430.6,309.5 426.7,308.5 423.8,301.6 422.8,291.9" fill="none" stroke="#c4a8d6" stroke-width="7" stroke-linejoin="round" filter="url(#fB1)" opacity="0.8"/>
<polygon points="424.8,282.1 433.6,277.2 443.3,274.3 453.1,277.2 460.9,273.3 470.7,274.3 478.6,275.2 483.4,280.1 482.5,287.9 481.5,295.8 478.6,299.7 472.7,296.8 466.8,298.7 463.9,303.6 461.9,311.4 460.0,315.3 456.1,312.4 454.1,303.6 453.1,298.7 447.3,297.7 441.4,299.7 435.5,305.6 430.6,309.5 426.7,308.5 423.8,301.6 422.8,291.9" fill="none" stroke="#7a4e98" stroke-width="6" stroke-linejoin="round" filter="url(#fSpeckC)" opacity="0.8"/>
<polygon points="488.3,289.9 492.2,283.1 500.1,280.1 509.9,278.2 519.6,281.1 529.4,280.1 537.2,284.0 540.2,289.9 535.3,295.8 532.3,301.6 529.4,309.5 523.5,308.5 519.6,303.6 515.7,301.6 511.8,303.6 504.0,307.5 500.1,311.4 496.2,319.2 494.2,327.1 491.3,330.0 487.4,325.1 486.4,315.3 489.3,305.6 491.3,297.7" fill="none" stroke="#c4a8d6" stroke-width="7" stroke-linejoin="round" filter="url(#fB1)" opacity="0.8"/>
<polygon points="488.3,289.9 492.2,283.1 500.1,280.1 509.9,278.2 519.6,281.1 529.4,280.1 537.2,284.0 540.2,289.9 535.3,295.8 532.3,301.6 529.4,309.5 523.5,308.5 519.6,303.6 515.7,301.6 511.8,303.6 504.0,307.5 500.1,311.4 496.2,319.2 494.2,327.1 491.3,330.0 487.4,325.1 486.4,315.3 489.3,305.6 491.3,297.7" fill="none" stroke="#7a4e98" stroke-width="6" stroke-linejoin="round" filter="url(#fSpeckC)" opacity="0.8"/>
<rect x="416" y="243" width="130" height="95" fill="#fff" filter="url(#fMesh)" opacity="0.35"/>
<rect x="416" y="243" width="130" height="95" fill="#8058a0" filter="url(#fSpeckA)" opacity="0.65"/>
<rect x="416" y="243" width="130" height="95" fill="#b04880" filter="url(#fSpeckB)" opacity="0.45"/>
<polygon points="424.8,282.1 433.6,277.2 443.3,274.3 453.1,277.2 460.9,273.3 470.7,274.3 478.6,275.2 483.4,280.1 482.5,287.9 481.5,295.8 478.6,299.7 472.7,296.8 466.8,298.7 463.9,303.6 461.9,311.4 460.0,315.3 456.1,312.4 454.1,303.6 453.1,298.7 447.3,297.7 441.4,299.7 435.5,305.6 430.6,309.5 426.7,308.5 423.8,301.6 422.8,291.9" fill="#f3eff6" filter="url(#fB1)"/>
<polygon points="424.8,282.1 433.6,277.2 443.3,274.3 453.1,277.2 460.9,273.3 470.7,274.3 478.6,275.2 483.4,280.1 482.5,287.9 481.5,295.8 478.6,299.7 472.7,296.8 466.8,298.7 463.9,303.6 461.9,311.4 460.0,315.3 456.1,312.4 454.1,303.6 453.1,298.7 447.3,297.7 441.4,299.7 435.5,305.6 430.6,309.5 426.7,308.5 423.8,301.6 422.8,291.9" fill="#c4aad6" filter="url(#fDark3)" opacity="0.5"/>
<polygon points="488.3,289.9 492.2,283.1 500.1,280.1 509.9,278.2 519.6,281.1 529.4,280.1 537.2,284.0 540.2,289.9 535.3,295.8 532.3,301.6 529.4,309.5 523.5,308.5 519.6,303.6 515.7,301.6 511.8,303.6 504.0,307.5 500.1,311.4 496.2,319.2 494.2,327.1 491.3,330.0 487.4,325.1 486.4,315.3 489.3,305.6 491.3,297.7" fill="#f3eff6" filter="url(#fB1)"/>
<polygon points="488.3,289.9 492.2,283.1 500.1,280.1 509.9,278.2 519.6,281.1 529.4,280.1 537.2,284.0 540.2,289.9 535.3,295.8 532.3,301.6 529.4,309.5 523.5,308.5 519.6,303.6 515.7,301.6 511.8,303.6 504.0,307.5 500.1,311.4 496.2,319.2 494.2,327.1 491.3,330.0 487.4,325.1 486.4,315.3 489.3,305.6 491.3,297.7" fill="#c4aad6" filter="url(#fDark3)" opacity="0.5"/>
<polygon points="482.5,246.9 488.3,244.9 494.2,248.8 500.1,246.9 503.0,254.7 500.1,260.6 501.1,266.4 496.2,268.4 492.2,262.5 488.3,264.5 484.4,258.6 486.4,252.7" fill="#f3eff6" filter="url(#fB2)" opacity="0.75"/>
</g>
<g clip-path="url(#cA2)">
<rect x="555.4" y="243" width="129.6" height="94.5" fill="#efdde8"/>
<rect x="555.4" y="243" width="129.6" height="94.5" fill="#e4cce0" filter="url(#fBlotA)" opacity="0.6"/>
<g transform="rotate(-35 620 290)"><rect x="520" y="200" width="200" height="180" fill="#fff" filter="url(#fFib2)" opacity="0.55"/></g>
<rect x="555.4" y="243" width="129.6" height="94.5" fill="#e090b0" filter="url(#fDark3)" opacity="0.45"/>
<rect x="555.4" y="243" width="129.6" height="94.5" fill="#d87ca0" filter="url(#fDark)" opacity="0.35"/>
<rect x="555.4" y="243" width="129.6" height="94.5" fill="#a890c4" filter="url(#fDark2)" opacity="0.15"/>
<path d="M606.9,268 Q611,261.5 616.7,261.5 Q622,261.8 627.5,262.6 Q634,265 638.3,269.1 Q643,274 644.8,279.9 Q646.5,285 647,290.8 Q646.5,297 643.8,300.5 Q640,303.8 636.2,303.8 Q632,303.5 627.5,302.7 Q622,301.8 616.7,300.5 Q612,299 609.1,296.2 Q606.5,292 605.8,287.5 Q604.8,282 604.8,276.7 Q605,272 606.9,268 Z" fill="#f3e6ee" filter="url(#fB1)" opacity="0.85"/>
<path d="M606.9,268 Q611,261.5 616.7,261.5 Q622,261.8 627.5,262.6 Q634,265 638.3,269.1 Q643,274 644.8,279.9 Q646.5,285 647,290.8 Q646.5,297 643.8,300.5 Q640,303.8 636.2,303.8 Q632,303.5 627.5,302.7 Q622,301.8 616.7,300.5 Q612,299 609.1,296.2 Q606.5,292 605.8,287.5 Q604.8,282 604.8,276.7 Q605,272 606.9,268 Z" fill="#e4b0c8" filter="url(#fDark3)" opacity="0.5"/>
<path d="M669,276.5 A11,11.3 0 1 1 668.9,276.5 Z" fill="#f3e6ee" filter="url(#fB1)" opacity="0.85"/>
<path d="M669,276.5 A11,11.3 0 1 1 668.9,276.5 Z" fill="#e4b0c8" filter="url(#fDark3)" opacity="0.5"/>
<path d="M571,301 Q577,294 586,296 Q596,300 599.5,310 Q601,318 596,321 Q588,324 580,321 Q571,318 569.5,311 Q569,305 571,301 Z" fill="#f3e6ee" filter="url(#fB1)" opacity="0.85"/>
<path d="M571,301 Q577,294 586,296 Q596,300 599.5,310 Q601,318 596,321 Q588,324 580,321 Q571,318 569.5,311 Q569,305 571,301 Z" fill="#e4b0c8" filter="url(#fDark3)" opacity="0.5"/>
<g fill="none" stroke="#fff" opacity="0.5" stroke-width="5" filter="url(#fMesh)"><path d="M606.9,268 Q611,261.5 616.7,261.5 Q622,261.8 627.5,262.6 Q634,265 638.3,269.1 Q643,274 644.8,279.9 Q646.5,285 647,290.8 Q646.5,297 643.8,300.5 Q640,303.8 636.2,303.8 Q632,303.5 627.5,302.7 Q622,301.8 616.7,300.5 Q612,299 609.1,296.2 Q606.5,292 605.8,287.5 Q604.8,282 604.8,276.7 Q605,272 606.9,268 Z" transform="translate(0,0)"/></g>
<rect x="555.4" y="243" width="129.6" height="94.5" fill="#e090b0" filter="url(#fDark3)" opacity="0.15"/>
<path d="M606.9,268 Q611,261.5 616.7,261.5 Q622,261.8 627.5,262.6 Q634,265 638.3,269.1 Q643,274 644.8,279.9 Q646.5,285 647,290.8 Q646.5,297 643.8,300.5 Q640,303.8 636.2,303.8 Q632,303.5 627.5,302.7 Q622,301.8 616.7,300.5 Q612,299 609.1,296.2 Q606.5,292 605.8,287.5 Q604.8,282 604.8,276.7 Q605,272 606.9,268 Z" fill="none" stroke="#eab4cc" stroke-width="4" filter="url(#fB1)" opacity="0.5"/>
<path d="M606.9,268 Q611,261.5 616.7,261.5 Q622,261.8 627.5,262.6 Q634,265 638.3,269.1 Q643,274 644.8,279.9 Q646.5,285 647,290.8 Q646.5,297 643.8,300.5 Q640,303.8 636.2,303.8 Q632,303.5 627.5,302.7 Q622,301.8 616.7,300.5 Q612,299 609.1,296.2 Q606.5,292 605.8,287.5 Q604.8,282 604.8,276.7 Q605,272 606.9,268 Z" fill="none" stroke="#dc7ca2" stroke-width="3.4" filter="url(#fRing)" opacity="0.5"/>
<path d="M669,276.5 A11,11.3 0 1 1 668.9,276.5 Z" fill="none" stroke="#eab4cc" stroke-width="4" filter="url(#fB1)" opacity="0.5"/>
<path d="M669,276.5 A11,11.3 0 1 1 668.9,276.5 Z" fill="none" stroke="#dc7ca2" stroke-width="3.4" filter="url(#fRing)" opacity="0.5"/>
<path d="M571,301 Q577,294 586,296 Q596,300 599.5,310 Q601,318 596,321 Q588,324 580,321 Q571,318 569.5,311 Q569,305 571,301 Z" fill="none" stroke="#eab4cc" stroke-width="4" filter="url(#fB1)" opacity="0.5"/>
<path d="M571,301 Q577,294 586,296 Q596,300 599.5,310 Q601,318 596,321 Q588,324 580,321 Q571,318 569.5,311 Q569,305 571,301 Z" fill="none" stroke="#dc7ca2" stroke-width="3.4" filter="url(#fRing)" opacity="0.5"/>
</g>
<text x="8.0" y="380.4" font-size="17.0" font-weight="normal" text-anchor="start" stroke="#111" stroke-width="0.45"  >D</text>
<path d="M102.5,378.09999999999997 V494.6 H276.6" fill="none" stroke="#1a1a1a" stroke-width="1.3"/>
<path d="M97.5,378.7 H102.5" stroke="#1a1a1a" stroke-width="1.3"/>
<text x="96.0" y="382.0" font-size="9" font-weight="bold" text-anchor="end"  >100</text>
<path d="M97.5,425.06 H102.5" stroke="#1a1a1a" stroke-width="1.3"/>
<text x="96.0" y="428.36" font-size="9" font-weight="bold" text-anchor="end"  >80</text>
<path d="M97.5,471.41999999999996 H102.5" stroke="#1a1a1a" stroke-width="1.3"/>
<text x="96.0" y="474.71999999999997" font-size="9" font-weight="bold" text-anchor="end"  >60</text>
<path d="M102.5,494.6 V498.0" stroke="#1a1a1a" stroke-width="1.3"/>
<text x="102.5" y="507.40000000000003" font-size="9" font-weight="bold" text-anchor="middle"  >0</text>
<path d="M160.7,494.6 V498.0" stroke="#1a1a1a" stroke-width="1.3"/>
<text x="160.7" y="507.40000000000003" font-size="9" font-weight="bold" text-anchor="middle"  >50</text>
<path d="M218.89999999999998,494.6 V498.0" stroke="#1a1a1a" stroke-width="1.3"/>
<text x="218.89999999999998" y="507.40000000000003" font-size="9" font-weight="bold" text-anchor="middle"  >100</text>
<path d="M277.1,494.6 V498.0" stroke="#1a1a1a" stroke-width="1.3"/>
<text x="277.1" y="507.40000000000003" font-size="9" font-weight="bold" text-anchor="middle"  >150</text>
<text x="189.8" y="521.2" font-size="9.6" font-weight="bold" text-anchor="middle"  >Months after operation</text>
<text transform="translate(77.8,435.9) rotate(-90)" font-size="9.55" font-weight="bold" text-anchor="middle">Overall survival (%)</text>
<text x="121.1" y="455.1" font-size="9.6" font-weight="bold" font-style="italic">P &lt; 0.001</text>
<path d="M117.8,465.5 h13.2 M124.39999999999999,465.5 v-2" stroke="#2a3c98" stroke-width="1.3" fill="none"/>
<text x="139.9" y="469.0" font-size="9.5" font-weight="bold" text-anchor="start"  >circ0043280</text>
<text x="208.4" y="469.0" font-size="9.5" font-weight="bold" text-anchor="start"  >Low n=82</text>
<path d="M117.8,481.5 h13.2 M124.39999999999999,481.5 v-2" stroke="#dd2a2a" stroke-width="1.3" fill="none"/>
<text x="139.9" y="485.0" font-size="9.5" font-weight="bold" text-anchor="start"  >circ0043280</text>
<text x="208.4" y="485.0" font-size="9.5" font-weight="bold" text-anchor="start"  >High n=58</text>
<path d="M102,378.7 H141.7 V382.5 H150.1 V386.7 H267.3" fill="none" stroke="#dd2a2a" stroke-width="1.3"/>
<path d="M102,378.7 H122.3 V381.5 H130.5 V384 H131.5 V386 H132 V388.5 H132.5 V393 H135.9 V394.5 H136.6 V396.5 H137.2 V398.5 H140.6 V403 H141.2 V405 H141.7 V409.5 H142.5 V412 H143.8 V413.7 H145.3 V415.3 H146.4 V416.8 H148.5 V418.1 H151.1 V420.8 H153.3 V424.1 H154.4 V426.7 H169.5 V429.6 H179 V432.7 H193.9 V438.2 H266.4" fill="none" stroke="#2a3c98" stroke-width="1.3"/>
<path d="M172.9,386.7 v-2.3 " stroke="#dd2a2a" stroke-width="1"/><path d="M174.15,386.7 v-2.3 " stroke="#dd2a2a" stroke-width="1"/><path d="M175.4,386.7 v-2.3 " stroke="#dd2a2a" stroke-width="1"/><path d="M176.65,386.7 v-2.3 " stroke="#dd2a2a" stroke-width="1"/><path d="M177.9,386.7 v-2.3 " stroke="#dd2a2a" stroke-width="1"/><path d="M179.15,386.7 v-2.3 " stroke="#dd2a2a" stroke-width="1"/><path d="M180.4,386.7 v-2.3 " stroke="#dd2a2a" stroke-width="1"/><path d="M182.5,386.7 v-2.3 " stroke="#dd2a2a" stroke-width="1"/><path d="M183.75,386.7 v-2.3 " stroke="#dd2a2a" stroke-width="1"/><path d="M184.7,386.7 v-2.3 " stroke="#dd2a2a" stroke-width="1"/><path d="M185.95,386.7 v-2.3 " stroke="#dd2a2a" stroke-width="1"/><path d="M188.6,386.7 v-2.3 " stroke="#dd2a2a" stroke-width="1"/><path d="M189.85,386.7 v-2.3 " stroke="#dd2a2a" stroke-width="1"/><path d="M191.1,386.7 v-2.3 " stroke="#dd2a2a" stroke-width="1"/><path d="M192.35,386.7 v-2.3 " stroke="#dd2a2a" stroke-width="1"/><path d="M193.6,386.7 v-2.3 " stroke="#dd2a2a" stroke-width="1"/><path d="M194.85,386.7 v-2.3 " stroke="#dd2a2a" stroke-width="1"/><path d="M196.1,386.7 v-2.3 " stroke="#dd2a2a" stroke-width="1"/><path d="M197.35,386.7 v-2.3 " stroke="#dd2a2a" stroke-width="1"/><path d="M208.3,386.7 v-2.3 " stroke="#dd2a2a" stroke-width="1"/><path d="M209.55,386.7 v-2.3 " stroke="#dd2a2a" stroke-width="1"/><path d="M211.4,386.7 v-2.3 " stroke="#dd2a2a" stroke-width="1"/><path d="M212.65,386.7 v-2.3 " stroke="#dd2a2a" stroke-width="1"/><path d="M213.9,386.7 v-2.3 " stroke="#dd2a2a" stroke-width="1"/><path d="M215.15,386.7 v-2.3 " stroke="#dd2a2a" stroke-width="1"/><path d="M219.7,386.7 v-2.3 " stroke="#dd2a2a" stroke-width="1"/><path d="M220.95,386.7 v-2.3 " stroke="#dd2a2a" stroke-width="1"/><path d="M222.4,386.7 v-2.3 " stroke="#dd2a2a" stroke-width="1"/><path d="M223.65,386.7 v-2.3 " stroke="#dd2a2a" stroke-width="1"/><path d="M224.9,386.7 v-2.3 " stroke="#dd2a2a" stroke-width="1"/><path d="M226.15,386.7 v-2.3 " stroke="#dd2a2a" stroke-width="1"/><path d="M232.3,386.7 v-2.3 " stroke="#dd2a2a" stroke-width="1"/><path d="M233.55,386.7 v-2.3 " stroke="#dd2a2a" stroke-width="1"/><path d="M236.2,386.7 v-2.3 " stroke="#dd2a2a" stroke-width="1"/><path d="M237.45,386.7 v-2.3 " stroke="#dd2a2a" stroke-width="1"/><path d="M249.8,386.7 v-2.3 " stroke="#dd2a2a" stroke-width="1"/><path d="M251.05,386.7 v-2.3 " stroke="#dd2a2a" stroke-width="1"/><path d="M253.7,386.7 v-2.3 " stroke="#dd2a2a" stroke-width="1"/><path d="M254.95,386.7 v-2.3 " stroke="#dd2a2a" stroke-width="1"/><path d="M256.8,386.7 v-2.3 " stroke="#dd2a2a" stroke-width="1"/><path d="M258.05,386.7 v-2.3 " stroke="#dd2a2a" stroke-width="1"/><path d="M260.3,386.7 v-2.3 " stroke="#dd2a2a" stroke-width="1"/><path d="M261.55,386.7 v-2.3 " stroke="#dd2a2a" stroke-width="1"/><path d="M266,386.7 v-2.3 " stroke="#dd2a2a" stroke-width="1"/><path d="M267.25,386.7 v-2.3 " stroke="#dd2a2a" stroke-width="1"/>
<path d="M174.6,429.6 v-2.3 " stroke="#2a3c98" stroke-width="1"/><path d="M175.85,429.6 v-2.3 " stroke="#2a3c98" stroke-width="1"/><path d="M177.1,429.6 v-2.3 " stroke="#2a3c98" stroke-width="1"/><path d="M179.8,432.7 v-2.3 " stroke="#2a3c98" stroke-width="1"/><path d="M181.05,432.7 v-2.3 " stroke="#2a3c98" stroke-width="1"/><path d="M182.3,432.7 v-2.3 " stroke="#2a3c98" stroke-width="1"/><path d="M183.55,432.7 v-2.3 " stroke="#2a3c98" stroke-width="1"/><path d="M184.8,432.7 v-2.3 " stroke="#2a3c98" stroke-width="1"/><path d="M186.05,432.7 v-2.3 " stroke="#2a3c98" stroke-width="1"/><path d="M187.3,432.7 v-2.3 " stroke="#2a3c98" stroke-width="1"/><path d="M188.55,432.7 v-2.3 " stroke="#2a3c98" stroke-width="1"/><path d="M189.8,432.7 v-2.3 " stroke="#2a3c98" stroke-width="1"/><path d="M191.3,432.7 v-2.3 " stroke="#2a3c98" stroke-width="1"/><path d="M192.55,432.7 v-2.3 " stroke="#2a3c98" stroke-width="1"/><path d="M196.1,438.2 v-2.3 " stroke="#2a3c98" stroke-width="1"/><path d="M197.35,438.2 v-2.3 " stroke="#2a3c98" stroke-width="1"/><path d="M198.6,438.2 v-2.3 " stroke="#2a3c98" stroke-width="1"/><path d="M199.85,438.2 v-2.3 " stroke="#2a3c98" stroke-width="1"/><path d="M201.1,438.2 v-2.3 " stroke="#2a3c98" stroke-width="1"/><path d="M203.5,438.2 v-2.3 " stroke="#2a3c98" stroke-width="1"/><path d="M204.75,438.2 v-2.3 " stroke="#2a3c98" stroke-width="1"/><path d="M206.2,438.2 v-2.3 " stroke="#2a3c98" stroke-width="1"/><path d="M210.5,438.2 v-2.3 " stroke="#2a3c98" stroke-width="1"/><path d="M211.75,438.2 v-2.3 " stroke="#2a3c98" stroke-width="1"/><path d="M213.0,438.2 v-2.3 " stroke="#2a3c98" stroke-width="1"/><path d="M220.2,438.2 v-2.3 " stroke="#2a3c98" stroke-width="1"/><path d="M221.45,438.2 v-2.3 " stroke="#2a3c98" stroke-width="1"/><path d="M222.7,438.2 v-2.3 " stroke="#2a3c98" stroke-width="1"/><path d="M223.95,438.2 v-2.3 " stroke="#2a3c98" stroke-width="1"/><path d="M225.2,438.2 v-2.3 " stroke="#2a3c98" stroke-width="1"/><path d="M226.45,438.2 v-2.3 " stroke="#2a3c98" stroke-width="1"/><path d="M227.7,438.2 v-2.3 " stroke="#2a3c98" stroke-width="1"/><path d="M228.95,438.2 v-2.3 " stroke="#2a3c98" stroke-width="1"/><path d="M230.2,438.2 v-2.3 " stroke="#2a3c98" stroke-width="1"/><path d="M231.45,438.2 v-2.3 " stroke="#2a3c98" stroke-width="1"/><path d="M232.7,438.2 v-2.3 " stroke="#2a3c98" stroke-width="1"/><path d="M233.95,438.2 v-2.3 " stroke="#2a3c98" stroke-width="1"/><path d="M242.8,438.2 v-2.3 " stroke="#2a3c98" stroke-width="1"/><path d="M244.05,438.2 v-2.3 " stroke="#2a3c98" stroke-width="1"/><path d="M245.3,438.2 v-2.3 " stroke="#2a3c98" stroke-width="1"/><path d="M253.3,438.2 v-2.3 " stroke="#2a3c98" stroke-width="1"/><path d="M254.55,438.2 v-2.3 " stroke="#2a3c98" stroke-width="1"/><path d="M255.8,438.2 v-2.3 " stroke="#2a3c98" stroke-width="1"/><path d="M259.4,438.2 v-2.3 " stroke="#2a3c98" stroke-width="1"/><path d="M260.65,438.2 v-2.3 " stroke="#2a3c98" stroke-width="1"/><path d="M263.8,438.2 v-2.3 " stroke="#2a3c98" stroke-width="1"/><path d="M265.05,438.2 v-2.3 " stroke="#2a3c98" stroke-width="1"/>
<text x="350.3" y="375.3" font-size="17.0" font-weight="normal" text-anchor="start" stroke="#111" stroke-width="0.45"  >E</text>
<path d="M429.4,377.4 V496.5 H606.7" fill="none" stroke="#1a1a1a" stroke-width="1.3"/>
<path d="M424.4,378.0 H429.4" stroke="#1a1a1a" stroke-width="1.3"/>
<text x="422.9" y="381.3" font-size="9" font-weight="bold" text-anchor="end"  >100</text>
<path d="M424.4,425.4 H429.4" stroke="#1a1a1a" stroke-width="1.3"/>
<text x="422.9" y="428.7" font-size="9" font-weight="bold" text-anchor="end"  >80</text>
<path d="M424.4,472.8 H429.4" stroke="#1a1a1a" stroke-width="1.3"/>
<text x="422.9" y="476.1" font-size="9" font-weight="bold" text-anchor="end"  >60</text>
<path d="M429.4,496.5 V499.9" stroke="#1a1a1a" stroke-width="1.3"/>
<text x="429.4" y="509.3" font-size="9" font-weight="bold" text-anchor="middle"  >0</text>
<path d="M488.65,496.5 V499.9" stroke="#1a1a1a" stroke-width="1.3"/>
<text x="488.65" y="509.3" font-size="9" font-weight="bold" text-anchor="middle"  >50</text>
<path d="M547.9,496.5 V499.9" stroke="#1a1a1a" stroke-width="1.3"/>
<text x="547.9" y="509.3" font-size="9" font-weight="bold" text-anchor="middle"  >100</text>
<path d="M607.15,496.5 V499.9" stroke="#1a1a1a" stroke-width="1.3"/>
<text x="607.15" y="509.3" font-size="9" font-weight="bold" text-anchor="middle"  >150</text>
<text x="518.275" y="523.1" font-size="9.6" font-weight="bold" text-anchor="middle"  >Months after operation</text>
<text transform="translate(405.2,436.0) rotate(-90)" font-size="9.55" font-weight="bold" text-anchor="middle">Disease-free survival (%)</text>
<text x="458.9" y="456.7" font-size="9.6" font-weight="bold"><tspan font-style="italic">P</tspan> = 0.0015</text>
<path d="M455.4,469.4 h12.2 M461.5,469.4 v-2" stroke="#2a3c98" stroke-width="1.3" fill="none"/>
<text x="483.0" y="472.9" font-size="9.5" font-weight="bold" text-anchor="start"  >circ0043280</text>
<text x="547.2" y="472.9" font-size="9.5" font-weight="bold" text-anchor="start"  >Low n=82</text>
<path d="M455.4,485.4 h12.2 M461.5,485.4 v-2" stroke="#dd2a2a" stroke-width="1.3" fill="none"/>
<text x="483.0" y="488.9" font-size="9.5" font-weight="bold" text-anchor="start"  >circ0043280</text>
<text x="547.2" y="488.9" font-size="9.5" font-weight="bold" text-anchor="start"  >High n=58</text>
<path d="M429,378 H454 V382 H458.9 V386 H468.2 V390.4 H597.5" fill="none" stroke="#dd2a2a" stroke-width="1.3"/>
<path d="M429,378 H432.3 V381 H438.3 V384.2 H443 V385.3 H443.6 V386.4 H445.2 V390 H445.6 V395.3 H446.7 V401.3 H449 V404 H450 V408 H450.3 V412 H451.2 V415.3 H452.3 V418.6 H453.6 V421.2 H456.9 V423.9 H459.8 V433 H470.2 V435.6 H472.2 V438.1 H596.1" fill="none" stroke="#2a3c98" stroke-width="1.3"/>
<path d="M500.5,390.4 v-2.3 " stroke="#dd2a2a" stroke-width="1"/><path d="M501.75,390.4 v-2.3 " stroke="#dd2a2a" stroke-width="1"/><path d="M503.0,390.4 v-2.3 " stroke="#dd2a2a" stroke-width="1"/><path d="M504.25,390.4 v-2.3 " stroke="#dd2a2a" stroke-width="1"/><path d="M505.5,390.4 v-2.3 " stroke="#dd2a2a" stroke-width="1"/><path d="M506.75,390.4 v-2.3 " stroke="#dd2a2a" stroke-width="1"/><path d="M508.0,390.4 v-2.3 " stroke="#dd2a2a" stroke-width="1"/><path d="M510.3,390.4 v-2.3 " stroke="#dd2a2a" stroke-width="1"/><path d="M511.55,390.4 v-2.3 " stroke="#dd2a2a" stroke-width="1"/><path d="M512.8,390.4 v-2.3 " stroke="#dd2a2a" stroke-width="1"/><path d="M514.05,390.4 v-2.3 " stroke="#dd2a2a" stroke-width="1"/><path d="M516.9,390.4 v-2.3 " stroke="#dd2a2a" stroke-width="1"/><path d="M518.15,390.4 v-2.3 " stroke="#dd2a2a" stroke-width="1"/><path d="M519.4,390.4 v-2.3 " stroke="#dd2a2a" stroke-width="1"/><path d="M520.65,390.4 v-2.3 " stroke="#dd2a2a" stroke-width="1"/><path d="M521.9,390.4 v-2.3 " stroke="#dd2a2a" stroke-width="1"/><path d="M524.2,390.4 v-2.3 " stroke="#dd2a2a" stroke-width="1"/><path d="M525.45,390.4 v-2.3 " stroke="#dd2a2a" stroke-width="1"/><path d="M537,390.4 v-2.3 " stroke="#dd2a2a" stroke-width="1"/><path d="M538.25,390.4 v-2.3 " stroke="#dd2a2a" stroke-width="1"/><path d="M539.5,390.4 v-2.3 " stroke="#dd2a2a" stroke-width="1"/><path d="M540.75,390.4 v-2.3 " stroke="#dd2a2a" stroke-width="1"/><path d="M542.0,390.4 v-2.3 " stroke="#dd2a2a" stroke-width="1"/><path d="M543.25,390.4 v-2.3 " stroke="#dd2a2a" stroke-width="1"/><path d="M544.5,390.4 v-2.3 " stroke="#dd2a2a" stroke-width="1"/><path d="M546.6,390.4 v-2.3 " stroke="#dd2a2a" stroke-width="1"/><path d="M547.85,390.4 v-2.3 " stroke="#dd2a2a" stroke-width="1"/><path d="M549.1,390.4 v-2.3 " stroke="#dd2a2a" stroke-width="1"/><path d="M551.4,390.4 v-2.3 " stroke="#dd2a2a" stroke-width="1"/><path d="M552.65,390.4 v-2.3 " stroke="#dd2a2a" stroke-width="1"/><path d="M553.9,390.4 v-2.3 " stroke="#dd2a2a" stroke-width="1"/><path d="M555.15,390.4 v-2.3 " stroke="#dd2a2a" stroke-width="1"/><path d="M561.5,390.4 v-2.3 " stroke="#dd2a2a" stroke-width="1"/><path d="M562.75,390.4 v-2.3 " stroke="#dd2a2a" stroke-width="1"/><path d="M564.0,390.4 v-2.3 " stroke="#dd2a2a" stroke-width="1"/><path d="M565.25,390.4 v-2.3 " stroke="#dd2a2a" stroke-width="1"/><path d="M579.8,390.4 v-2.3 " stroke="#dd2a2a" stroke-width="1"/><path d="M581.05,390.4 v-2.3 " stroke="#dd2a2a" stroke-width="1"/><path d="M582.3,390.4 v-2.3 " stroke="#dd2a2a" stroke-width="1"/><path d="M583.55,390.4 v-2.3 " stroke="#dd2a2a" stroke-width="1"/><path d="M586.4,390.4 v-2.3 " stroke="#dd2a2a" stroke-width="1"/><path d="M589.9,390.4 v-2.3 " stroke="#dd2a2a" stroke-width="1"/><path d="M591.15,390.4 v-2.3 " stroke="#dd2a2a" stroke-width="1"/><path d="M592.4,390.4 v-2.3 " stroke="#dd2a2a" stroke-width="1"/><path d="M595.6,390.4 v-2.3 " stroke="#dd2a2a" stroke-width="1"/><path d="M596.85,390.4 v-2.3 " stroke="#dd2a2a" stroke-width="1"/>
<path d="M497,438.1 v-2.3 " stroke="#2a3c98" stroke-width="1"/><path d="M498.25,438.1 v-2.3 " stroke="#2a3c98" stroke-width="1"/><path d="M499.5,438.1 v-2.3 " stroke="#2a3c98" stroke-width="1"/><path d="M500.75,438.1 v-2.3 " stroke="#2a3c98" stroke-width="1"/><path d="M503.1,438.1 v-2.3 " stroke="#2a3c98" stroke-width="1"/><path d="M504.35,438.1 v-2.3 " stroke="#2a3c98" stroke-width="1"/><path d="M505.6,438.1 v-2.3 " stroke="#2a3c98" stroke-width="1"/><path d="M506.85,438.1 v-2.3 " stroke="#2a3c98" stroke-width="1"/><path d="M508.1,438.1 v-2.3 " stroke="#2a3c98" stroke-width="1"/><path d="M509.35,438.1 v-2.3 " stroke="#2a3c98" stroke-width="1"/><path d="M510.6,438.1 v-2.3 " stroke="#2a3c98" stroke-width="1"/><path d="M512.3,438.1 v-2.3 " stroke="#2a3c98" stroke-width="1"/><path d="M513.55,438.1 v-2.3 " stroke="#2a3c98" stroke-width="1"/><path d="M515.4,438.1 v-2.3 " stroke="#2a3c98" stroke-width="1"/><path d="M518,438.1 v-2.3 " stroke="#2a3c98" stroke-width="1"/><path d="M519.25,438.1 v-2.3 " stroke="#2a3c98" stroke-width="1"/><path d="M520.6,438.1 v-2.3 " stroke="#2a3c98" stroke-width="1"/><path d="M523.3,438.1 v-2.3 " stroke="#2a3c98" stroke-width="1"/><path d="M524.55,438.1 v-2.3 " stroke="#2a3c98" stroke-width="1"/><path d="M525.9,438.1 v-2.3 " stroke="#2a3c98" stroke-width="1"/><path d="M529,438.1 v-2.3 " stroke="#2a3c98" stroke-width="1"/><path d="M530.25,438.1 v-2.3 " stroke="#2a3c98" stroke-width="1"/><path d="M532.9,438.1 v-2.3 " stroke="#2a3c98" stroke-width="1"/><path d="M534.15,438.1 v-2.3 " stroke="#2a3c98" stroke-width="1"/><path d="M536.4,438.1 v-2.3 " stroke="#2a3c98" stroke-width="1"/><path d="M537.65,438.1 v-2.3 " stroke="#2a3c98" stroke-width="1"/><path d="M539.9,438.1 v-2.3 " stroke="#2a3c98" stroke-width="1"/><path d="M541.15,438.1 v-2.3 " stroke="#2a3c98" stroke-width="1"/><path d="M548.6,438.1 v-2.3 " stroke="#2a3c98" stroke-width="1"/><path d="M549.85,438.1 v-2.3 " stroke="#2a3c98" stroke-width="1"/><path d="M551.1,438.1 v-2.3 " stroke="#2a3c98" stroke-width="1"/><path d="M552.35,438.1 v-2.3 " stroke="#2a3c98" stroke-width="1"/><path d="M553.6,438.1 v-2.3 " stroke="#2a3c98" stroke-width="1"/><path d="M556.4,438.1 v-2.3 " stroke="#2a3c98" stroke-width="1"/><path d="M557.65,438.1 v-2.3 " stroke="#2a3c98" stroke-width="1"/><path d="M558.9,438.1 v-2.3 " stroke="#2a3c98" stroke-width="1"/><path d="M560.8,438.1 v-2.3 " stroke="#2a3c98" stroke-width="1"/><path d="M562.05,438.1 v-2.3 " stroke="#2a3c98" stroke-width="1"/><path d="M563.3,438.1 v-2.3 " stroke="#2a3c98" stroke-width="1"/><path d="M572.1,438.1 v-2.3 " stroke="#2a3c98" stroke-width="1"/><path d="M573.35,438.1 v-2.3 " stroke="#2a3c98" stroke-width="1"/><path d="M582.7,438.1 v-2.3 " stroke="#2a3c98" stroke-width="1"/><path d="M583.95,438.1 v-2.3 " stroke="#2a3c98" stroke-width="1"/><path d="M585.2,438.1 v-2.3 " stroke="#2a3c98" stroke-width="1"/><path d="M587.9,438.1 v-2.3 " stroke="#2a3c98" stroke-width="1"/><path d="M589.15,438.1 v-2.3 " stroke="#2a3c98" stroke-width="1"/><path d="M591.4,438.1 v-2.3 " stroke="#2a3c98" stroke-width="1"/><path d="M592.65,438.1 v-2.3 " stroke="#2a3c98" stroke-width="1"/><path d="M594,438.1 v-2.3 " stroke="#2a3c98" stroke-width="1"/><path d="M595.25,438.1 v-2.3 " stroke="#2a3c98" stroke-width="1"/>
</svg></body></html>
